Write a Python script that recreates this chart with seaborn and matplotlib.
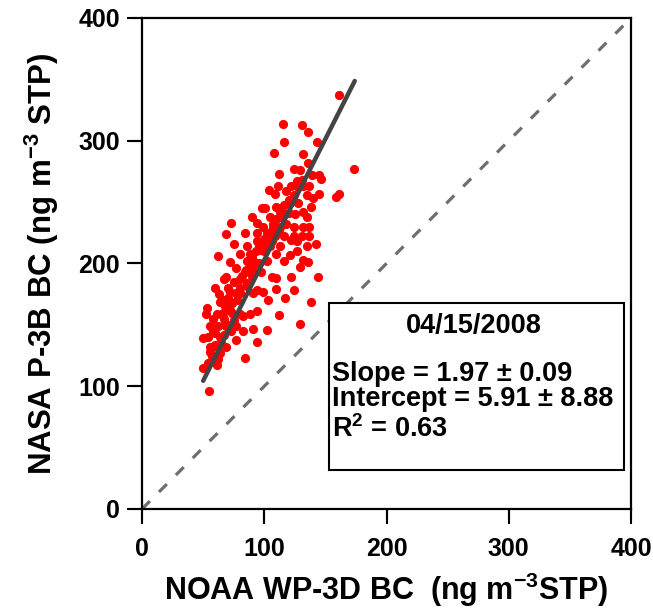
import numpy as np
import pandas as pd
import matplotlib
matplotlib.use("Agg")
import matplotlib.pyplot as plt
from matplotlib.lines import Line2D
import seaborn as sns

# NOAA WP-3D BC (x) vs NASA P-3B BC (y), ng m-3 STP
noaa_bc = [161, 115, 131, 136, 116, 143, 108, 132, 136, 124, 129, 139, 145, 146, 112,
           173, 104, 111, 109, 118, 122, 127, 132, 137, 135, 145, 159, 161, 140, 98,
           101, 110, 116, 121, 128, 132, 138, 135, 125, 120, 114, 105, 73, 90, 94,
           99, 107, 113, 124, 132, 137, 94, 102, 109, 116, 124, 131, 137, 69, 84,
           75, 86, 94, 99, 105, 113, 122, 127, 135, 142, 80, 88, 97, 110, 62,
           127, 121, 72, 86, 94, 102, 116, 132, 136, 129, 122, 144, 84, 91, 77,
           69, 80, 110, 106, 97, 60, 67, 72, 80, 86, 94, 99, 110, 117, 124,
           103, 138, 91, 77, 53, 52, 64, 68, 72, 61, 80, 88, 94, 83, 112,
           75, 67, 58, 56, 62, 69, 77, 91, 102, 129, 60, 67, 73, 83, 50,
           54, 77, 94, 56, 61, 69, 64, 57, 58, 84, 65, 50, 61, 54, 55,
           63, 66, 70, 74, 78, 70, 75, 82, 85, 88, 90, 93, 96, 100, 104,
           107, 110, 113, 117, 120, 124, 128, 131, 118, 112, 106, 100, 96, 90, 86,
           80, 74, 68, 64, 60, 58, 66, 70, 56, 62]
nasa_bc = [337, 314, 313, 307, 299, 299, 290, 289, 282, 277, 276, 272, 272, 269, 273,
           277, 260, 263, 257, 259, 263, 267, 263, 263, 256, 257, 254, 257, 253, 245,
           245, 246, 248, 249, 249, 242, 246, 238, 240, 241, 238, 238, 233, 238, 233,
           230, 229, 230, 230, 230, 230, 225, 225, 222, 222, 222, 222, 222, 224, 225,
           216, 214, 218, 216, 214, 214, 219, 218, 214, 216, 208, 208, 211, 208, 206,
           210, 207, 201, 202, 200, 202, 202, 203, 201, 197, 189, 189, 193, 195, 196,
           189, 187, 188, 189, 193, 180, 187, 177, 180, 184, 178, 177, 179, 172, 178,
           170, 169, 176, 176, 164, 159, 169, 165, 162, 159, 159, 159, 161, 157, 158,
           154, 155, 155, 149, 149, 149, 149, 147, 146, 151, 143, 142, 145, 145, 139,
           140, 138, 136, 132, 132, 132, 127, 125, 121, 123, 135, 115, 117, 119, 96,
           175, 170, 172, 168, 170, 180, 185, 190, 195, 200, 205, 210, 215, 220, 225,
           232, 236, 242, 240, 252, 256, 262, 268, 232, 226, 218, 210, 200, 190, 182,
           176, 160, 150, 140, 134, 145, 160, 150, 128, 122]

# fit results shown in the box
fit_slope = 1.97
fit_intercept = 5.91
fit_x = [50, 174]
one_to_one = [0, 400]
axis_ticks = [0, 100, 200, 300, 400]
box_lines = ["Slope = 1.97 \u00b1 0.09", "Intercept = 5.91 \u00b1 8.88", r"R$^{\mathbf{2}}$ = 0.63"]
box_date = "04/15/2008"

df = pd.DataFrame({"noaa": noaa_bc, "nasa": nasa_bc})
fit_df = pd.DataFrame({"x": fit_x, "y": [fit_slope * v + fit_intercept for v in fit_x]})
ref_df = pd.DataFrame({"x": one_to_one, "y": one_to_one})

sns.set_style("ticks")
plt.rcParams["font.family"] = ["Liberation Sans", "DejaVu Sans"]
plt.rcParams["font.weight"] = "bold"
plt.rcParams["mathtext.fontset"] = "custom"
plt.rcParams["mathtext.rm"] = "Liberation Sans:bold"
plt.rcParams["mathtext.bf"] = "Liberation Sans:bold"
plt.rcParams["text.color"] = "black"
plt.rcParams["axes.labelcolor"] = "black"

fig = plt.figure(figsize=(6.53, 6.1), dpi=100)
ax = fig.add_axes([0.2175, 0.1656, 0.7488, 0.8049])

sns.lineplot(data=ref_df, x="x", y="y", ax=ax, color="#6e6e6e", lw=2.3,
             linestyle=(0, (3.5, 4)), zorder=1)
sns.scatterplot(data=df, x="noaa", y="nasa", ax=ax, color="red", s=44,
                linewidth=0, zorder=2)
sns.lineplot(data=fit_df, x="x", y="y", ax=ax, color="#444444", lw=3.2, zorder=3)

ax.set_xlim(0, 400)
ax.set_ylim(0, 400)
ax.set_xticks(axis_ticks)
ax.set_yticks(axis_ticks)
for sp in ax.spines.values():
    sp.set_linewidth(1.6)
    sp.set_color("black")

ax.set_xlabel(r"NOAA WP-3D BC  (ng m$^{\mathbf{-3}}$STP)", fontsize=22,
              fontweight="bold", labelpad=7)
ax.set_ylabel(r"NASA P-3B BC (ng m$^{\mathbf{-3}}$ STP)", fontsize=22.5,
              fontweight="bold", labelpad=12)

# stats box
box = plt.Rectangle((0.382, 0.079), 0.604, 0.341, transform=ax.transAxes,
                    fill=True, facecolor="white", edgecolor="black", lw=1.5, zorder=4)
ax.add_patch(box)
ax.text(0.678, 0.373, box_date, transform=ax.transAxes, ha="center", va="center",
        fontsize=19.5, fontweight="bold", zorder=5)
for yy, line in zip([0.275, 0.223, 0.162], box_lines):
    ax.text(0.389, yy, line, transform=ax.transAxes, ha="left",
            va="center", fontsize=19.5, fontweight="bold", zorder=5)

ax.tick_params(axis="x", direction="out", length=11, width=1.5, labelsize=18,
               color="black", labelcolor="black", pad=9)
ax.tick_params(axis="y", direction="out", length=11, width=1.5, labelsize=18,
               color="black", labelcolor="black", pad=5)

# tick strokes added at figure level, on top of everything
tick_len_x = 11 / 491
tick_len_y = 11 / 489
for v in axis_ticks:
    fig.add_artist(Line2D([v, v], [0, -tick_len_x], transform=ax.get_xaxis_transform(),
                          color="black", lw=1.5, solid_capstyle="butt", zorder=20))
    fig.add_artist(Line2D([0, -tick_len_y], [v, v], transform=ax.get_yaxis_transform(),
                          color="black", lw=1.5, solid_capstyle="butt", zorder=20))

fig.savefig("out.png", dpi=100)
